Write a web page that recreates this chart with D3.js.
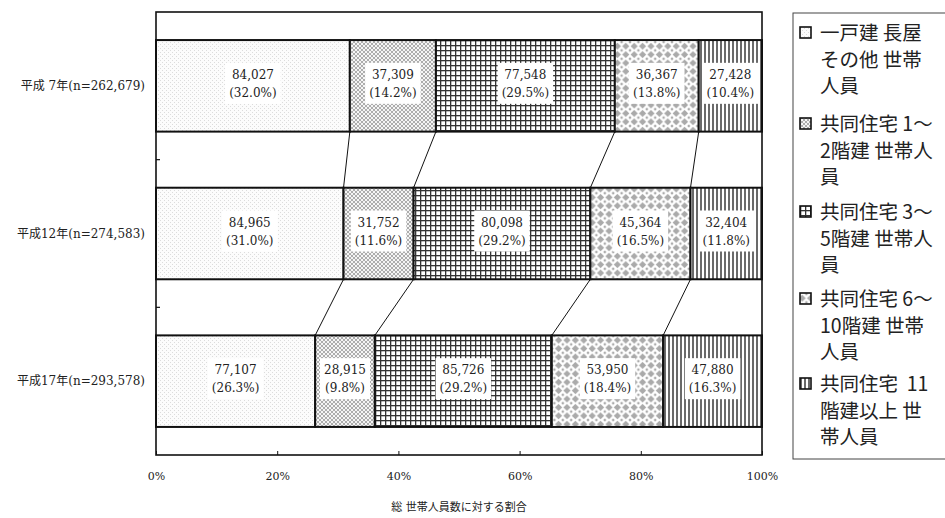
<!DOCTYPE html>
<html>
<head>
<meta charset="utf-8">
<script src="https://cdn.jsdelivr.net/npm/d3@7"></script>
<style>
  html, body { margin: 0; padding: 0; background: #fff; }
  svg { display: block; }
  text { font-family: "DejaVu Serif", "Liberation Serif", "Noto Sans CJK JP", serif; fill: #222; }
</style>
</head>
<body>
<svg id="chart" width="945" height="518"></svg>
<script>
// Years (categories) with their total counts
const years = ["平成 7年(n=262,679)", "平成12年(n=274,583)", "平成17年(n=293,578)"];

// Series names (legend text, pre-broken into lines)
const seriesNames = [
  ["一戸建 長屋", "その他 世帯", "人員"],
  ["共同住宅 1～", "2階建 世帯人", "員"],
  ["共同住宅 3～", "5階建 世帯人", "員"],
  ["共同住宅 6～", "10階建 世帯", "人員"],
  ["共同住宅  11", "階建以上 世", "帯人員"]
];

// Household member counts per series, one value per year
const detached   = [84027, 84965, 77107];
const apt1to2    = [37309, 31752, 28915];
const apt3to5    = [77548, 80098, 85726];
const apt6to10   = [36367, 45364, 53950];
const apt11plus  = [27428, 32404, 47880];

// Percent shares as printed on each segment
const pctDetached  = [32.0, 31.0, 26.3];
const pctApt1to2   = [14.2, 11.6, 9.8];
const pctApt3to5   = [29.5, 29.2, 29.2];
const pctApt6to10  = [13.8, 16.5, 18.4];
const pctApt11plus = [10.4, 11.8, 16.3];

const xTicks = [0, 0.2, 0.4, 0.6, 0.8, 1.0];
const xTitle = "総 世帯人員数に対する割合";

const seriesValues = [detached, apt1to2, apt3to5, apt6to10, apt11plus];
const seriesPcts = [pctDetached, pctApt1to2, pctApt3to5, pctApt6to10, pctApt11plus];

const svg = d3.select("#chart");
const defs = svg.append("defs");

// ---- fill patterns ----
function pattern(id, w, h, draw) {
  const p = defs.append("pattern").attr("id", id)
    .attr("patternUnits", "userSpaceOnUse").attr("width", w).attr("height", h);
  draw(p);
}
pattern("p0", 4, 4, p => {
  p.append("rect").attr("width", 4).attr("height", 4).attr("fill", "#fcfcfc");
  p.append("rect").attr("x", 0).attr("y", 0).attr("width", 1).attr("height", 1).attr("fill", "#dcdcdc");
  p.append("rect").attr("x", 2).attr("y", 2).attr("width", 1).attr("height", 1).attr("fill", "#dcdcdc");
});
pattern("p1", 4, 4, p => {
  p.append("rect").attr("width", 4).attr("height", 4).attr("fill", "#f4f4f4");
  p.append("path").attr("d", "M0,0L4,4M4,0L0,4").attr("stroke", "#9a9a9a").attr("stroke-width", 0.8);
  p.append("circle").attr("cx", 2).attr("cy", 0).attr("r", 0.7).attr("fill", "#fff");
});
pattern("p2", 5, 5, p => {
  p.append("rect").attr("width", 5).attr("height", 5).attr("fill", "#fff");
  p.append("rect").attr("x", 0).attr("y", 0).attr("width", 5).attr("height", 1.3).attr("fill", "#333");
  p.append("rect").attr("x", 0).attr("y", 0).attr("width", 1.3).attr("height", 5).attr("fill", "#333");
});
pattern("p3", 8.4, 8.4, p => {
  p.append("rect").attr("width", 8.4).attr("height", 8.4).attr("fill", "#fff");
  p.append("path").attr("d", "M4.2,0.6L7.8,4.2L4.2,7.8L0.6,4.2Z").attr("fill", "#aaa");
  p.append("path").attr("d", "M0,0L1.6,0L0,1.6Z M8.4,0L6.8,0L8.4,1.6Z M0,8.4L1.6,8.4L0,6.8Z M8.4,8.4L6.8,8.4L8.4,6.8Z").attr("fill", "#aaa");
});
pattern("p4", 4, 4, p => {
  p.append("rect").attr("width", 4).attr("height", 4).attr("fill", "#fff");
  p.append("rect").attr("x", 0).attr("y", 0).attr("width", 2).attr("height", 4).attr("fill", "#6a6a6a");
});
const fills = ["url(#p0)", "url(#p1)", "url(#p2)", "url(#p3)", "url(#p4)"];

// ---- scales ----
const plot = { left: 156, right: 762, top: 12, bottom: 455 };
const x = d3.scaleLinear().domain([0, 1]).range([plot.left, plot.right]);
const y = d3.scaleBand().domain(years).range([plot.top, plot.bottom])
  .paddingInner(0.38).paddingOuter(0.19);

// stack shares per year
const rows = years.map((yr, i) => {
  const total = d3.sum(seriesValues, s => s[i]);
  let acc = 0;
  return seriesValues.map((s, k) => {
    const x0 = acc / total;
    acc += s[i];
    return { year: yr, k, value: s[i], pct: seriesPcts[k][i], x0, x1: acc / total };
  });
});

// frame
svg.append("rect")
  .attr("x", plot.left).attr("y", plot.top)
  .attr("width", plot.right - plot.left).attr("height", plot.bottom - plot.top)
  .attr("fill", "#fff").attr("stroke", "#111").attr("stroke-width", 1.6);

// series connector lines between consecutive bars
const g = svg.append("g");
for (let i = 0; i < years.length - 1; i++) {
  for (let k = 1; k < seriesValues.length; k++) {
    g.append("line")
      .attr("x1", x(rows[i][k].x0)).attr("y1", y(years[i]) + y.bandwidth())
      .attr("x2", x(rows[i + 1][k].x0)).attr("y2", y(years[i + 1]))
      .attr("stroke", "#111").attr("stroke-width", 1);
  }
}

// bars
rows.forEach(row => {
  const bg = g.append("g");
  bg.selectAll("rect").data(row).join("rect")
    .attr("x", d => x(d.x0)).attr("y", d => y(d.year))
    .attr("width", d => x(d.x1) - x(d.x0)).attr("height", y.bandwidth())
    .attr("fill", d => fills[d.k])
    .attr("stroke", "#111").attr("stroke-width", 2);
});

// value labels with white backing
const fmt = d3.format(",");
rows.forEach(row => {
  row.forEach(d => {
    const cx = (x(d.x0) + x(d.x1)) / 2;
    const cy = y(d.year) + y.bandwidth() / 2;
    const lg = g.append("g");
    const bgRect = lg.append("rect").attr("fill", "#fff");
    const t = lg.append("text").attr("text-anchor", "middle").style("font-size", "12px")
      .attr("fill", "#333");
    t.append("tspan").attr("x", cx).attr("y", cy - 7).text(fmt(d.value));
    t.append("tspan").attr("x", cx).attr("y", cy + 11).text("(" + d.pct.toFixed(1) + "%)");
    const bb = t.node().getBBox();
    bgRect.attr("x", bb.x - 4).attr("y", bb.y - 5)
      .attr("width", bb.width + 8).attr("height", bb.height + 9);
  });
});

// category labels
svg.append("g").selectAll("text").data(years).join("text")
  .attr("x", 145).attr("y", d => y(d) + y.bandwidth() / 2 + 4)
  .attr("text-anchor", "end").style("font-size", "12px").attr("fill", "#333")
  .text(d => d);

// category boundary ticks on the left edge
const step = y.step();
for (let i = 1; i < years.length; i++) {
  const yy = plot.top + step * i;
  svg.append("line").attr("x1", plot.left).attr("x2", plot.left + 4)
    .attr("y1", yy).attr("y2", yy).attr("stroke", "#111").attr("stroke-width", 1.2);
}

// x axis
const xAxis = d3.axisBottom(x).tickValues(xTicks)
  .tickFormat(d => Math.round(d * 100) + "%")
  .tickSize(-4).tickPadding(17);
const ax = svg.append("g").attr("transform", `translate(0,${plot.bottom})`).call(xAxis);
ax.select(".domain").remove();
ax.selectAll(".tick line").attr("stroke", "#111");
ax.selectAll(".tick text").style("font-size", "11px")
  .style("font-family", '"DejaVu Serif", "Liberation Serif", serif').attr("fill", "#333");

svg.append("text").attr("x", (plot.left + plot.right) / 2).attr("y", 511)
  .attr("text-anchor", "middle").style("font-size", "11px").attr("fill", "#333").text(xTitle);

// legend
const leg = svg.append("g");
leg.append("rect").attr("x", 793).attr("y", 13).attr("width", 160).attr("height", 446)
  .attr("fill", "#fff").attr("stroke", "#444").attr("stroke-width", 1);
const itemTop = [33, 124, 212, 299, 384];
seriesNames.forEach((lines, k) => {
  const top = itemTop[k];
  leg.append("rect").attr("x", 800).attr("y", top - 6).attr("width", 11).attr("height", 11)
    .attr("fill", fills[k]).attr("stroke", "#111").attr("stroke-width", 1.6);
  lines.forEach((ln, j) => {
    leg.append("text").attr("x", 820).attr("y", top + j * 26.5 + 7)
      .style("font-size", "19.5px")
      .style("font-family", '"Noto Sans CJK JP", "Liberation Serif", sans-serif')
      .style("white-space", "pre")
      .attr("fill", "#222")
      .text(ln);
  });
});
</script>
</body>
</html>
